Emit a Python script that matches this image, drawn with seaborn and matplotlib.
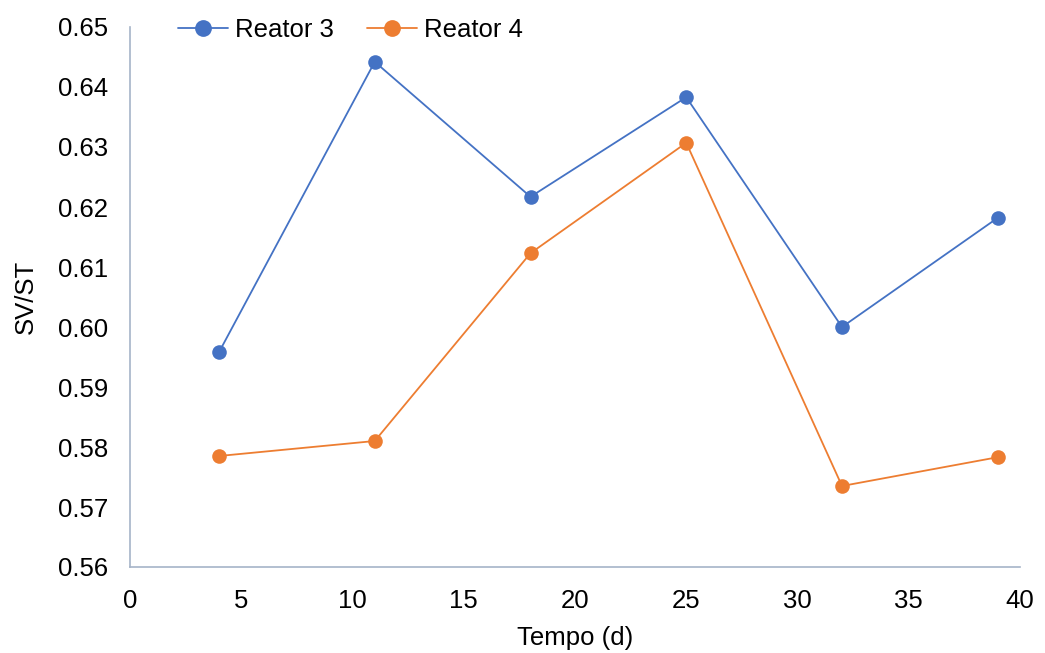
import matplotlib
matplotlib.use("Agg")
import matplotlib.pyplot as plt
import seaborn as sns
import pandas as pd

tempo = [4, 11, 18, 25, 32, 39]
reator3 = [0.5958, 0.6442, 0.6217, 0.6383, 0.6000, 0.6182]
reator4 = [0.5785, 0.5810, 0.6123, 0.6307, 0.5735, 0.5783]
series_names = ["Reator 3", "Reator 4"]
colors = ["#4472C4", "#ED7D31"]
xticks = [0, 5, 10, 15, 20, 25, 30, 35, 40]
yticks = [0.56, 0.57, 0.58, 0.59, 0.60, 0.61, 0.62, 0.63, 0.64, 0.65]

df = pd.concat([
    pd.DataFrame({"Tempo": tempo, "SV/ST": reator3, "Série": series_names[0]}),
    pd.DataFrame({"Tempo": tempo, "SV/ST": reator4, "Série": series_names[1]}),
])

sns.set_style("white")
plt.rcParams["font.family"] = ["Liberation Sans", "DejaVu Sans"]
plt.rcParams["text.color"] = "black"
plt.rcParams["axes.labelcolor"] = "black"
plt.rcParams["xtick.color"] = "black"
plt.rcParams["ytick.color"] = "black"

FS = 18.5

fig = plt.figure(figsize=(10.45, 6.53), dpi=100)
ax = fig.add_axes([130/1045, 1-567/653, (1020-130)/1045, (567-27)/653])

sns.lineplot(data=df, x="Tempo", y="SV/ST", hue="Série", palette=colors,
             marker="o", markersize=10.5, markeredgewidth=0, linewidth=1.3,
             ax=ax, legend=True)

ax.set_xlim(0, 40)
ax.set_ylim(0.56, 0.65)
ax.set_xticks(xticks)
ax.set_yticks(yticks)
ax.set_yticklabels([f"{v:.2f}" for v in yticks])
ax.tick_params(axis="both", labelsize=FS, length=0, pad=16)
for s in ["top", "right"]:
    ax.spines[s].set_visible(False)
for s in ["left", "bottom"]:
    ax.spines[s].set_color("#A6B4C8")
    ax.spines[s].set_linewidth(1.2)

ax.set_xlabel("Tempo (d)", fontsize=FS, labelpad=9)
ax.set_ylabel("SV/ST", fontsize=FS, labelpad=14)

handles, labels = ax.get_legend_handles_labels()
ax.get_legend().remove()
fig.legend(handles, labels, loc="center left", bbox_to_anchor=(178/1045, 1-30/653),
           ncol=2, frameon=False, fontsize=FS, handlelength=1.95,
           handletextpad=0.27, columnspacing=1.3, borderaxespad=0, borderpad=0,
           markerscale=1.15)

fig.savefig("out.png", dpi=100)
